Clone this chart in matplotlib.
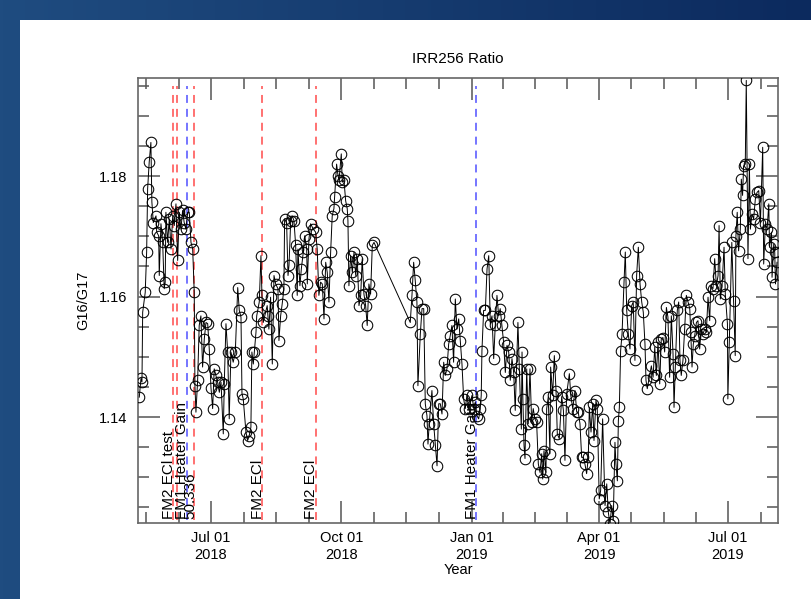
import numpy as np
import pandas as pd
import matplotlib
matplotlib.use('Agg')
import matplotlib.pyplot as plt
import matplotlib.dates as mdates
import matplotlib.transforms as mtransforms
from matplotlib.patches import Rectangle
from matplotlib.colors import LinearSegmentedColormap
from matplotlib.ticker import MultipleLocator, FixedLocator

plt.rcParams['font.family'] = ['Liberation Sans', 'DejaVu Sans']

# ---------------- data ----------------
ref_date = '2018-07-01'   # day offsets below are relative to this date

days = [
    -50.6, -49.4, -48.7, -48.2, -46.4, -45.4, -44.7, -43.6, -42.4, -41.7,
    -40.7, -38.8, -38.3, -36.9, -36.5, -35.3, -34.1, -33.0, -32.3, -31.8,
    -30.6, -29.4, -28.2, -27.0, -25.9, -24.7, -23.5, -22.4, -21.2, -20.0,
    -18.9, -17.7, -16.4, -15.3, -14.1, -12.9, -11.8, -11.3, -10.6, -9.4,
    -8.3, -7.1, -5.9, -4.7, -3.5, -2.3, -1.2, 0.0, 1.2, 2.3,
    3.5, 4.7, 5.9, 7.1, 8.7, 9.4, 10.6, 11.8, 12.9, 14.1,
    15.7, 17.2, 18.9, 20.0, 21.2, 21.9, 22.8, 24.7, 25.9, 27.0,
    28.2, 28.9, 29.9, 30.6, 31.8, 32.3, 34.1, 35.3, 36.0, 36.9,
    39.7, 40.2, 40.9, 42.1, 43.3, 44.5, 45.7, 47.3, 48.0, 49.2,
    50.3, 51.5, 52.0, 53.4, 54.4, 55.1, 56.3, 57.4, 58.6, 59.8,
    60.9, 61.4, 62.8, 63.8, 65.2, 66.2, 67.6, 68.0, 69.2, 70.4,
    72.2, 73.9, 75.0, 76.2, 77.4, 78.6, 79.8, 81.0, 82.1, 83.3,
    84.5, 85.6, 86.8, 87.3, 88.7, 89.7, 90.4, 92.0, 92.7, 93.9,
    95.1, 96.2, 96.7, 97.4, 98.6, 99.8, 101.0, 102.2, 103.3, 104.5,
    105.7, 106.8, 108.0, 109.2, 110.3, 111.5, 112.7, 113.9, 115.1,
    140.7, 141.9, 143.1, 144.2, 145.4, 146.1, 147.8, 149.0, 150.2, 151.3,
    152.5, 153.2, 154.1, 156.0, 157.2, 158.4, 159.6, 160.8, 161.9, 163.1,
    164.3, 165.4, 166.6, 167.8, 168.9, 170.1, 171.3, 172.5, 173.7, 174.9,
    176.0, 177.2, 178.4, 179.5, 180.7, 181.9, 184.3, 185.5, 186.6, 187.8,
    189.0, 190.1, 190.8, 191.3, 192.5, 193.7, 194.9, 196.1, 197.2, 198.4,
    199.6, 200.7, 201.9, 203.1, 204.2, 205.4, 206.6, 207.8, 209.0, 210.2,
    211.3, 212.5, 213.7, 214.8, 216.7, 217.7, 219.1, 219.6, 220.2, 221.0,
    221.7, 222.9, 224.0, 225.2, 226.4, 227.5, 228.7, 229.9, 231.1, 232.3,
    233.5, 234.2, 235.1, 236.5, 237.0, 238.1, 239.3, 239.8, 241.2, 242.4,
    243.6, 244.5, 245.9, 247.6, 248.8, 249.9, 251.1, 253.0, 254.0, 255.4,
    257.0, 258.2, 259.3, 260.5, 261.7, 262.8, 264.0, 265.2, 266.4, 267.1,
    268.3, 269.5, 270.4, 271.8, 272.7, 274.1, 275.1, 276.5, 278.2, 279.4,
    280.5, 281.7, 282.9, 284.0, 285.2, 285.9, 286.9, 287.6, 288.3, 289.2,
    290.2, 291.6, 292.5, 293.5, 294.6, 295.8, 297.0, 298.1, 299.3, 300.5,
    301.7, 302.9, 304.1, 305.2, 306.4, 307.1, 308.0,
    310.9, 312.1, 313.3, 314.4, 315.6, 316.8, 317.9, 319.1, 320.3, 321.5,
    322.6, 323.8, 325.0, 326.2, 326.9, 327.8, 329.2, 330.2, 331.1, 332.0,
    333.2, 334.4, 335.6, 336.8, 338.0, 338.7, 339.6, 340.5, 341.5, 342.7,
    343.8, 345.0, 346.1, 347.4, 348.5, 349.7, 350.9, 352.1, 352.8, 354.4,
    355.6, 356.8, 358.0, 358.7, 359.6, 360.8, 362.2, 363.1, 364.6, 364.9,
    365.9, 367.7, 368.9, 370.1, 370.6, 371.5, 372.5, 373.7, 374.4, 375.3,
    376.0, 377.2, 377.9, 379.1, 380.1, 380.8, 381.9, 383.1, 384.3, 385.5,
    386.7, 387.9, 389.5, 390.2, 391.4, 392.6, 393.8, 394.3, 395.7, 396.1,
    397.3, 398.0, 398.5, 399.6,
]

ratio = [
    1.1433, 1.1464, 1.1458, 1.1574, 1.1607, 1.1674, 1.1779, 1.1823, 1.1856, 1.1757,
    1.1723, 1.1734, 1.1707, 1.1701, 1.1635, 1.1721, 1.1690, 1.1613, 1.1624, 1.1740,
    1.1690, 1.1729, 1.1679, 1.1734, 1.1718, 1.1754, 1.1660, 1.1740, 1.1712, 1.1743,
    1.1723, 1.1712, 1.1740, 1.1740, 1.1690, 1.1679, 1.1607, 1.1452, 1.1408, 1.1461,
    1.1552, 1.1568, 1.1483, 1.1530, 1.1557, 1.1555, 1.1513, 1.1449, 1.1414, 1.1480,
    1.1469, 1.1458, 1.1441, 1.1458, 1.1372, 1.1455, 1.1555, 1.1508, 1.1397, 1.1508,
    1.1491, 1.1508, 1.1615, 1.1577, 1.1566, 1.1439, 1.1430, 1.1375, 1.1361, 1.1369,
    1.1383, 1.1508, 1.1488, 1.1508, 1.1541, 1.1568, 1.1591, 1.1668, 1.1602, 1.1557,
    1.1585, 1.1568, 1.1546, 1.1599, 1.1488, 1.1635, 1.1621, 1.1613, 1.1527, 1.1568,
    1.1588, 1.1613, 1.1729, 1.1723, 1.1635, 1.1652, 1.1726, 1.1734, 1.1726, 1.1685,
    1.1602, 1.1679, 1.1618, 1.1646, 1.1674, 1.1701, 1.1679, 1.1621, 1.1696, 1.1721,
    1.1712, 1.1707, 1.1679, 1.1602, 1.1624, 1.1621, 1.1563, 1.1657, 1.1640, 1.1591,
    1.1674, 1.1734, 1.1746, 1.1765, 1.1820, 1.1801, 1.1793, 1.1837, 1.1790, 1.1793,
    1.1759, 1.1746, 1.1726, 1.1618, 1.1668, 1.1640, 1.1674, 1.1635, 1.1663, 1.1585,
    1.1602, 1.1663, 1.1604, 1.1585, 1.1552, 1.1621, 1.1604, 1.1685, 1.1690,
    1.1557, 1.1602, 1.1657, 1.1627, 1.1591, 1.1452, 1.1538, 1.1580, 1.1580, 1.1422,
    1.1402, 1.1355, 1.1389, 1.1444, 1.1389, 1.1353, 1.1319, 1.1422, 1.1422, 1.1405,
    1.1491, 1.1469, 1.1480, 1.1521, 1.1535, 1.1552, 1.1491, 1.1596, 1.1546, 1.1563,
    1.1527, 1.1488, 1.1430, 1.1414, 1.1436, 1.1414, 1.1436, 1.1414, 1.1425, 1.1402,
    1.1397, 1.1414, 1.1436, 1.1510, 1.1577, 1.1577, 1.1646, 1.1668, 1.1555, 1.1568,
    1.1497, 1.1552, 1.1602, 1.1568, 1.1580, 1.1552, 1.1524, 1.1474, 1.1519, 1.1508,
    1.1461, 1.1497, 1.1474, 1.1411, 1.1557, 1.1480, 1.1380, 1.1508, 1.1430, 1.1353,
    1.1331, 1.1480, 1.1389, 1.1480, 1.1391, 1.1414, 1.1397, 1.1391, 1.1322, 1.1308,
    1.1339, 1.1297, 1.1344, 1.1308, 1.1414, 1.1433, 1.1339, 1.1483, 1.1436, 1.1502,
    1.1444, 1.1372, 1.1364, 1.1434, 1.1411, 1.1328, 1.1438, 1.1472, 1.1436, 1.1414,
    1.1444, 1.1408, 1.1408, 1.1389, 1.1333, 1.1333, 1.1322, 1.1306, 1.1333, 1.1416,
    1.1375, 1.1422, 1.1361, 1.1428, 1.1414, 1.1264, 1.1278, 1.1397, 1.1253, 1.1289,
    1.1242, 1.1222, 1.1253, 1.1228, 1.1358, 1.1322, 1.1294, 1.1394, 1.1416, 1.1510,
    1.1538, 1.1624, 1.1674, 1.1577, 1.1538, 1.1513, 1.1585, 1.1591, 1.1494, 1.1635,
    1.1682, 1.1621, 1.1591, 1.1574, 1.1521, 1.1461, 1.1447,
    1.1485, 1.1466, 1.1516, 1.1469, 1.1524, 1.1455, 1.1530, 1.1532, 1.1508, 1.1582,
    1.1566, 1.1466, 1.1568, 1.1505, 1.1416, 1.1483, 1.1577, 1.1591, 1.1494, 1.1469,
    1.1494, 1.1546, 1.1602, 1.1591, 1.1580, 1.1541, 1.1483, 1.1521, 1.1535, 1.1557,
    1.1560, 1.1513, 1.1546, 1.1538, 1.1546, 1.1541, 1.1599, 1.1560, 1.1618, 1.1613,
    1.1663, 1.1618, 1.1635, 1.1718, 1.1596, 1.1618, 1.1682, 1.1604, 1.1555, 1.1430,
    1.1524, 1.1690, 1.1593, 1.1502, 1.1701, 1.1740, 1.1676, 1.1712, 1.1795, 1.1768,
    1.1817, 1.1820, 1.1959, 1.1663, 1.1820, 1.1712, 1.1737, 1.1729, 1.1762, 1.1773,
    1.1776, 1.1723, 1.1848, 1.1654, 1.1721, 1.1712, 1.1754, 1.1682, 1.1707, 1.1632,
    1.1687, 1.1674, 1.1621, 1.1657,
]

event_dates = ['2018-06-04 10:00', '2018-06-06 19:00', '2018-06-13 19:00',
               '2018-06-19 05:00', '2018-08-06 00:00', '2018-09-12 22:00',
               '2019-01-04 05:00']
event_colors = ['#ff4a4a', '#ff4a4a', '#5050ff', '#ff4a4a', '#ff4a4a', '#ff4a4a', '#5050ff']
event_labels = ['FM2 ECl test', '', 'FM1 Heater Gain', '50.336', 'FM2 ECl', 'FM2 ECl',
                'FM1 Heater Gain']

xtick_dates = ['2018-07-01', '2018-10-01', '2019-01-01', '2019-04-01', '2019-07-01']
xtick_labels = ['Jul 01\n2018', 'Oct 01\n2018', 'Jan 01\n2019', 'Apr 01\n2019', 'Jul 01\n2019']
quarter_bounds = ['2018-04-01', '2018-07-01', '2018-10-01', '2019-01-01', '2019-04-01',
                  '2019-07-01', '2019-10-01']
ytick_vals = [1.14, 1.16, 1.18]
ytick_labels = ['1.14', '1.16', '1.18']

# ---------------- build ----------------
base = pd.Timestamp(ref_date)
dts = base + pd.to_timedelta(np.array(days), unit='D')
order = np.argsort(np.array(days))
xnum = mdates.date2num(dts.to_pydatetime())[order]
yv = np.array(ratio)[order]

fig = plt.figure(figsize=(8.11, 5.99), dpi=100)

# background frame
bg = fig.add_axes([0, 0, 1, 1], zorder=-10)
cmap = LinearSegmentedColormap.from_list('bg', ['#1f4c80', '#0c2a5e'])
bg.imshow(np.linspace(0, 1, 256)[None, :], aspect='auto', cmap=cmap,
          extent=[0, 1, 0, 1])
bg.add_patch(Rectangle((20 / 811, 0), 1, 1 - 20 / 599, facecolor='white',
                       edgecolor='none'))
bg.set_xlim(0, 1)
bg.set_ylim(0, 1)
bg.set_axis_off()

ax = fig.add_axes([138 / 811, 1 - 523 / 599, 640 / 811, 445 / 599])
ax.set_facecolor('none')

ax.plot(xnum, yv, '-', color='black', lw=0.7, marker='o', mfc='none',
        mec='black', ms=7.6, mew=0.75, zorder=3)

trans = mtransforms.blended_transform_factory(ax.transData, ax.transAxes)
for d, c, lab in zip(event_dates, event_colors, event_labels):
    xd = mdates.date2num(pd.Timestamp(d).to_pydatetime())
    ax.axvline(xd, ymin=0.006, ymax=0.982, color=c, lw=1.1,
               linestyle=(0, (5.2, 3.9)), zorder=2)
    if lab:
        ax.text(xd + 2.0, 0.008, lab, rotation=90, ha='right', va='bottom',
                fontsize=11, color='black', transform=trans, zorder=4)

ax.set_xlim(mdates.date2num((base + pd.Timedelta(days=-51.5)).to_pydatetime()),
            mdates.date2num((base + pd.Timedelta(days=400.3)).to_pydatetime()))
ax.set_ylim(1.1224, 1.1963)

ax.xaxis.set_major_locator(FixedLocator(mdates.date2num(pd.to_datetime(xtick_dates).to_pydatetime())))
ax.set_xticklabels(xtick_labels)
qb = mdates.date2num(pd.to_datetime(quarter_bounds).to_pydatetime())
minors = []
for a, b in zip(qb[:-1], qb[1:]):
    minors.extend(np.linspace(a, b, 5)[1:-1])
ax.xaxis.set_minor_locator(FixedLocator(minors))

ax.set_yticks(ytick_vals)
ax.set_yticklabels(ytick_labels)
ax.yaxis.set_minor_locator(MultipleLocator(0.005))

ax.tick_params(which='both', direction='in', top=True, right=True,
               color='#555555', width=1.1, labelsize=10.5)
ax.tick_params(which='major', length=16)
ax.tick_params(which='minor', length=8)
ax.tick_params(axis='x', pad=6)
ax.tick_params(axis='y', pad=8)
for s in ax.spines.values():
    s.set_color('#666666')
    s.set_linewidth(1.2)

ax.set_xlabel('Year', fontsize=10.5, labelpad=1)
ax.set_ylabel('G16/G17', fontsize=10.5, labelpad=6)
ax.set_title('IRR256 Ratio', fontsize=11, pad=11)

fig.savefig('out.png', dpi=100)
